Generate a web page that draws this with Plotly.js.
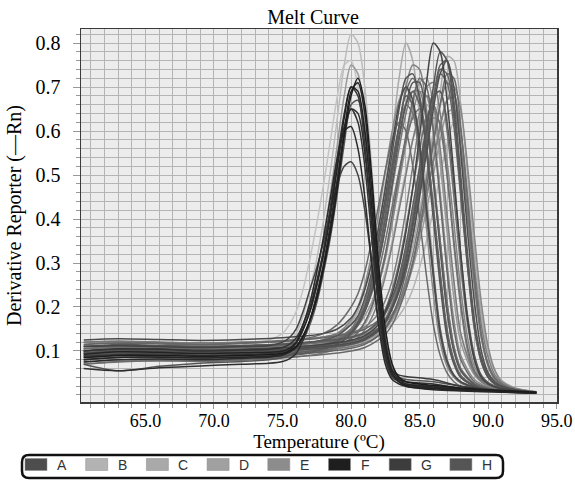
<!DOCTYPE html>
<html>
<head>
<meta charset="utf-8">
<script src="https://cdn.plot.ly/plotly-3.0.1.min.js"></script>
<style>html,body{margin:0;padding:0;background:#fff;}#chart{width:575px;height:489px;}</style>
</head>
<body>
<div id="chart"></div>
<script>
// ---------- DATA ----------
const chartTitle = 'Melt Curve';
const xTitle = 'Temperature (ºC)';
const yTitle = 'Derivative Reporter (—Rn)';
const xTickVals = [65, 70, 75, 80, 85, 90, 95];
const yTickVals = [0.1, 0.2, 0.3, 0.4, 0.5, 0.6, 0.7, 0.8];
const wellRows = ['A', 'B', 'C', 'D', 'E', 'F', 'G', 'H'];

// temperature grids (°C) for the three peak families
const tempsLow  = [60.5, 63, 66, 69, 72, 74, 75, 75.5, 76, 76.5, 77, 77.5, 78, 78.5, 79, 79.5, 80, 80.5, 81, 81.5, 82, 82.5, 83, 83.5, 84, 86, 88, 91, 93.5];
const tempsMid  = [60.5, 63, 66, 69, 72, 75, 77, 78, 79, 80, 80.5, 81, 81.5, 82, 82.5, 83, 83.5, 84, 84.5, 85, 85.5, 86, 86.5, 87, 87.5, 88, 89, 90, 91.5, 93.5];
const tempsHigh = [60.5, 63, 66, 69, 72, 75, 78, 80, 81, 82, 82.5, 83, 83.5, 84, 84.5, 85, 85.5, 86, 86.5, 87, 87.5, 88, 88.5, 89, 89.5, 90, 90.5, 91, 92, 93.5];

// peak ~80 °C
const low1  = [0.092,0.098,0.097,0.094,0.096,0.097,0.10,0.106,0.12,0.15,0.19,0.25,0.32,0.41,0.52,0.63,0.70,0.69,0.60,0.43,0.24,0.11,0.05,0.03,0.02,0.014,0.011,0.008,0.005];
const low2  = [0.085,0.09,0.09,0.088,0.09,0.092,0.095,0.10,0.11,0.135,0.17,0.22,0.29,0.37,0.47,0.59,0.68,0.72,0.66,0.50,0.30,0.15,0.07,0.04,0.03,0.022,0.016,0.01,0.006];
const low3  = [0.10,0.105,0.104,0.10,0.102,0.104,0.108,0.115,0.13,0.16,0.2,0.26,0.33,0.42,0.52,0.61,0.65,0.62,0.52,0.36,0.2,0.09,0.045,0.035,0.03,0.025,0.015,0.008,0.005];
const low4  = [0.075,0.08,0.082,0.08,0.083,0.086,0.09,0.1,0.12,0.16,0.21,0.28,0.36,0.45,0.54,0.6,0.61,0.56,0.45,0.3,0.16,0.07,0.035,0.025,0.02,0.012,0.009,0.006,0.004];
const low5  = [0.11,0.112,0.11,0.108,0.11,0.112,0.12,0.13,0.15,0.19,0.24,0.29,0.35,0.42,0.48,0.52,0.53,0.5,0.42,0.3,0.17,0.08,0.04,0.03,0.025,0.02,0.014,0.009,0.006];
const low6  = [0.1,0.105,0.105,0.1,0.1,0.105,0.11,0.12,0.14,0.18,0.24,0.31,0.4,0.51,0.63,0.75,0.82,0.8,0.7,0.52,0.31,0.15,0.07,0.04,0.025,0.015,0.01,0.007,0.005];
const low7  = [0.095,0.1,0.1,0.098,0.1,0.102,0.105,0.11,0.125,0.16,0.21,0.28,0.36,0.46,0.57,0.68,0.75,0.73,0.63,0.45,0.26,0.12,0.06,0.035,0.025,0.018,0.012,0.008,0.005];
const low8  = [0.105,0.11,0.112,0.11,0.115,0.125,0.14,0.16,0.19,0.24,0.31,0.39,0.48,0.58,0.68,0.75,0.76,0.7,0.58,0.42,0.25,0.12,0.06,0.035,0.025,0.018,0.012,0.008,0.005];
const low9  = [0.07,0.055,0.065,0.072,0.076,0.08,0.085,0.09,0.1,0.125,0.16,0.21,0.28,0.36,0.46,0.57,0.66,0.67,0.6,0.46,0.28,0.13,0.06,0.04,0.035,0.03,0.02,0.01,0.005];
const low10 = [0.088,0.092,0.093,0.09,0.092,0.094,0.098,0.104,0.118,0.148,0.19,0.25,0.33,0.43,0.54,0.64,0.7,0.68,0.57,0.4,0.22,0.1,0.055,0.045,0.042,0.035,0.02,0.01,0.006];
const low11 = [0.06,0.055,0.062,0.066,0.07,0.072,0.076,0.082,0.095,0.125,0.17,0.23,0.3,0.39,0.49,0.59,0.65,0.64,0.55,0.39,0.21,0.09,0.045,0.03,0.022,0.016,0.012,0.008,0.005];
const low12 = [0.08,0.085,0.086,0.084,0.086,0.088,0.092,0.097,0.108,0.132,0.17,0.22,0.29,0.38,0.49,0.6,0.69,0.71,0.64,0.47,0.27,0.12,0.055,0.035,0.025,0.018,0.013,0.008,0.005];

// peak ~84-85 °C
const mid1  = [0.1,0.105,0.105,0.1,0.102,0.105,0.11,0.12,0.135,0.165,0.19,0.24,0.3,0.38,0.48,0.59,0.72,0.8,0.76,0.63,0.46,0.29,0.15,0.08,0.045,0.03,0.015,0.01,0.007,0.005];
const mid2  = [0.11,0.115,0.112,0.11,0.112,0.115,0.12,0.125,0.135,0.16,0.18,0.22,0.28,0.36,0.45,0.55,0.65,0.72,0.73,0.67,0.55,0.4,0.25,0.13,0.07,0.04,0.02,0.012,0.008,0.005];
const mid3  = [0.095,0.1,0.1,0.098,0.1,0.104,0.11,0.115,0.125,0.145,0.165,0.2,0.25,0.32,0.41,0.51,0.61,0.69,0.72,0.68,0.57,0.43,0.28,0.15,0.08,0.045,0.022,0.013,0.008,0.005];
const mid4  = [0.12,0.122,0.12,0.118,0.12,0.122,0.128,0.132,0.14,0.16,0.175,0.2,0.24,0.3,0.38,0.47,0.56,0.64,0.69,0.69,0.62,0.5,0.35,0.21,0.11,0.06,0.025,0.014,0.009,0.005];
const mid5  = [0.09,0.095,0.095,0.093,0.095,0.1,0.105,0.11,0.12,0.135,0.145,0.165,0.2,0.25,0.31,0.39,0.48,0.57,0.64,0.69,0.68,0.6,0.46,0.3,0.17,0.09,0.035,0.018,0.01,0.006];
const mid6  = [0.08,0.085,0.086,0.084,0.087,0.09,0.097,0.104,0.115,0.14,0.165,0.2,0.26,0.34,0.43,0.52,0.61,0.68,0.66,0.57,0.43,0.28,0.15,0.08,0.045,0.03,0.018,0.011,0.007,0.004];
const mid7  = [0.105,0.11,0.11,0.108,0.11,0.113,0.118,0.123,0.13,0.15,0.165,0.19,0.23,0.28,0.35,0.43,0.51,0.58,0.63,0.65,0.6,0.49,0.35,0.21,0.11,0.06,0.025,0.014,0.009,0.005];
const mid8  = [0.1,0.104,0.104,0.1,0.103,0.106,0.112,0.118,0.128,0.145,0.158,0.18,0.21,0.26,0.32,0.4,0.49,0.58,0.66,0.71,0.72,0.66,0.53,0.37,0.22,0.12,0.045,0.02,0.011,0.006];
const mid9  = [0.115,0.118,0.116,0.114,0.117,0.122,0.13,0.14,0.16,0.2,0.23,0.28,0.35,0.43,0.51,0.58,0.62,0.6,0.52,0.4,0.27,0.16,0.09,0.05,0.03,0.02,0.013,0.009,0.006,0.004];
const mid10 = [0.1,0.103,0.102,0.1,0.102,0.105,0.11,0.116,0.126,0.148,0.168,0.2,0.25,0.32,0.41,0.51,0.61,0.7,0.75,0.74,0.65,0.5,0.34,0.19,0.1,0.055,0.024,0.013,0.008,0.005];
const mid11 = [0.095,0.1,0.1,0.098,0.1,0.103,0.108,0.113,0.12,0.135,0.145,0.16,0.19,0.23,0.28,0.35,0.43,0.51,0.58,0.63,0.66,0.63,0.53,0.39,0.25,0.14,0.05,0.022,0.012,0.006];
const mid12 = [0.125,0.128,0.126,0.124,0.126,0.13,0.135,0.14,0.15,0.175,0.2,0.24,0.3,0.38,0.47,0.57,0.66,0.7,0.67,0.57,0.42,0.27,0.14,0.075,0.045,0.03,0.018,0.011,0.007,0.004];
const mid13 = [0.085,0.09,0.09,0.088,0.09,0.094,0.1,0.106,0.116,0.138,0.158,0.19,0.24,0.31,0.4,0.5,0.59,0.66,0.69,0.66,0.56,0.42,0.27,0.14,0.075,0.04,0.02,0.012,0.008,0.005];
const mid14 = [0.075,0.08,0.082,0.08,0.083,0.088,0.095,0.1,0.11,0.128,0.142,0.165,0.2,0.25,0.32,0.41,0.5,0.59,0.67,0.72,0.7,0.6,0.44,0.28,0.15,0.08,0.03,0.016,0.009,0.005];
const mid15 = [0.09,0.094,0.094,0.092,0.094,0.098,0.105,0.112,0.124,0.15,0.175,0.21,0.27,0.35,0.44,0.53,0.61,0.66,0.64,0.55,0.41,0.27,0.14,0.075,0.042,0.028,0.016,0.01,0.007,0.004];
const mid16 = [0.07,0.075,0.078,0.076,0.079,0.084,0.09,0.096,0.105,0.12,0.13,0.148,0.175,0.215,0.27,0.34,0.42,0.5,0.58,0.64,0.68,0.66,0.56,0.41,0.26,0.14,0.05,0.022,0.012,0.006];
const mid17 = [0.095,0.098,0.098,0.096,0.098,0.102,0.108,0.113,0.122,0.142,0.16,0.19,0.235,0.3,0.38,0.48,0.58,0.66,0.71,0.71,0.63,0.49,0.33,0.19,0.1,0.055,0.024,0.013,0.008,0.005];
const mid18 = [0.105,0.108,0.108,0.106,0.108,0.112,0.118,0.126,0.14,0.17,0.2,0.25,0.32,0.41,0.51,0.6,0.67,0.7,0.65,0.53,0.38,0.23,0.12,0.065,0.04,0.027,0.016,0.01,0.007,0.004];

// peak ~86-87.5 °C
const high1  = [0.1,0.104,0.105,0.102,0.104,0.108,0.115,0.125,0.135,0.16,0.19,0.23,0.29,0.37,0.47,0.59,0.71,0.8,0.78,0.67,0.5,0.32,0.17,0.08,0.04,0.025,0.018,0.014,0.01,0.006];
const high2  = [0.09,0.095,0.096,0.094,0.096,0.1,0.107,0.115,0.125,0.145,0.165,0.2,0.245,0.31,0.39,0.49,0.6,0.7,0.78,0.76,0.65,0.48,0.3,0.16,0.08,0.04,0.025,0.017,0.01,0.006];
const high3  = [0.105,0.108,0.108,0.106,0.108,0.112,0.12,0.13,0.14,0.16,0.175,0.2,0.235,0.28,0.34,0.42,0.5,0.6,0.69,0.77,0.76,0.66,0.5,0.33,0.19,0.1,0.055,0.032,0.015,0.007];
const high4  = [0.115,0.118,0.118,0.115,0.118,0.122,0.13,0.14,0.15,0.17,0.19,0.22,0.26,0.32,0.4,0.49,0.58,0.67,0.73,0.71,0.61,0.45,0.29,0.15,0.075,0.04,0.024,0.016,0.01,0.006];
const high5  = [0.085,0.09,0.092,0.09,0.092,0.096,0.102,0.11,0.118,0.135,0.15,0.175,0.21,0.26,0.32,0.4,0.49,0.58,0.66,0.71,0.69,0.57,0.41,0.25,0.13,0.065,0.035,0.022,0.012,0.006];
const high6  = [0.1,0.104,0.104,0.102,0.104,0.108,0.114,0.122,0.13,0.145,0.158,0.178,0.205,0.245,0.3,0.37,0.45,0.53,0.61,0.67,0.7,0.65,0.52,0.36,0.21,0.11,0.055,0.03,0.015,0.007];
const high7  = [0.11,0.113,0.112,0.11,0.112,0.116,0.123,0.132,0.142,0.165,0.185,0.22,0.27,0.34,0.43,0.52,0.61,0.68,0.69,0.62,0.48,0.32,0.18,0.09,0.045,0.028,0.02,0.014,0.009,0.005];
const high8  = [0.095,0.098,0.098,0.096,0.098,0.102,0.108,0.115,0.122,0.14,0.152,0.17,0.2,0.24,0.29,0.35,0.42,0.5,0.58,0.64,0.65,0.56,0.4,0.25,0.13,0.07,0.04,0.025,0.014,0.007];
const high9  = [0.105,0.108,0.108,0.105,0.108,0.112,0.12,0.13,0.142,0.17,0.195,0.24,0.3,0.38,0.47,0.56,0.63,0.66,0.61,0.5,0.35,0.21,0.11,0.055,0.035,0.025,0.018,0.013,0.009,0.005];
const high10 = [0.095,0.1,0.1,0.098,0.1,0.104,0.11,0.118,0.128,0.148,0.165,0.195,0.235,0.29,0.36,0.45,0.55,0.65,0.73,0.76,0.7,0.55,0.37,0.21,0.1,0.05,0.03,0.02,0.012,0.006];
const high11 = [0.1,0.103,0.103,0.1,0.103,0.106,0.112,0.118,0.125,0.138,0.148,0.162,0.18,0.205,0.24,0.29,0.35,0.42,0.5,0.57,0.62,0.59,0.46,0.3,0.18,0.1,0.055,0.033,0.016,0.008];
const high12 = [0.12,0.122,0.12,0.118,0.12,0.124,0.132,0.142,0.155,0.185,0.215,0.26,0.33,0.42,0.52,0.62,0.7,0.71,0.64,0.5,0.34,0.2,0.1,0.05,0.03,0.022,0.016,0.012,0.008,0.005];
const high13 = [0.08,0.085,0.087,0.085,0.087,0.092,0.098,0.106,0.115,0.135,0.152,0.18,0.22,0.28,0.36,0.46,0.57,0.67,0.74,0.73,0.63,0.46,0.29,0.15,0.075,0.04,0.024,0.016,0.01,0.006];
const high14 = [0.07,0.076,0.078,0.077,0.08,0.085,0.092,0.1,0.108,0.125,0.138,0.16,0.195,0.24,0.3,0.38,0.47,0.57,0.66,0.73,0.72,0.61,0.44,0.27,0.14,0.07,0.038,0.024,0.012,0.006];
const high15 = [0.095,0.098,0.098,0.096,0.098,0.102,0.11,0.118,0.128,0.152,0.172,0.205,0.255,0.32,0.41,0.51,0.6,0.68,0.69,0.6,0.45,0.29,0.16,0.08,0.042,0.027,0.019,0.014,0.009,0.005];
const high16 = [0.11,0.112,0.112,0.11,0.112,0.116,0.122,0.13,0.138,0.152,0.164,0.184,0.21,0.25,0.3,0.37,0.45,0.53,0.61,0.67,0.68,0.6,0.45,0.29,0.16,0.085,0.045,0.027,0.014,0.007];
const high17 = [0.1,0.103,0.103,0.1,0.103,0.107,0.114,0.122,0.132,0.152,0.17,0.2,0.24,0.3,0.38,0.47,0.57,0.67,0.75,0.76,0.67,0.5,0.32,0.17,0.085,0.045,0.027,0.018,0.011,0.006];
const high18 = [0.085,0.09,0.092,0.09,0.092,0.097,0.105,0.114,0.125,0.15,0.172,0.21,0.26,0.33,0.41,0.49,0.57,0.63,0.62,0.53,0.39,0.24,0.13,0.065,0.038,0.026,0.018,0.013,0.009,0.005];

// ---------- STYLE ----------
const curves = [
  [tempsLow, low1, '#232323'], [tempsLow, low2, '#1c1c1c'], [tempsLow, low3, '#333333'],
  [tempsLow, low4, '#2a2a2a'], [tempsLow, low5, '#444444'], [tempsLow, low6, '#bdbdbd'],
  [tempsLow, low7, '#9a9a9a'], [tempsLow, low8, '#c4c4c4'], [tempsLow, low9, '#555555'],
  [tempsLow, low10, '#3a3a3a'], [tempsLow, low11, '#2e2e2e'], [tempsLow, low12, '#262626'],
  [tempsMid, mid1, '#aaaaaa'], [tempsMid, mid2, '#555555'], [tempsMid, mid3, '#666666'],
  [tempsMid, mid4, '#777777'], [tempsMid, mid5, '#888888'], [tempsMid, mid6, '#5a5a5a'],
  [tempsMid, mid7, '#707070'], [tempsMid, mid8, '#999999'], [tempsMid, mid9, '#6a6a6a'],
  [tempsMid, mid10, '#808080'], [tempsMid, mid11, '#b0b0b0'], [tempsMid, mid12, '#4a4a4a'],
  [tempsMid, mid13, '#606060'], [tempsMid, mid14, '#686868'], [tempsMid, mid15, '#727272'],
  [tempsMid, mid16, '#7c7c7c'], [tempsMid, mid17, '#585858'], [tempsMid, mid18, '#8a8a8a'],
  [tempsHigh, high1, '#444444'], [tempsHigh, high2, '#555555'], [tempsHigh, high3, '#aaaaaa'],
  [tempsHigh, high4, '#666666'], [tempsHigh, high5, '#777777'], [tempsHigh, high6, '#888888'],
  [tempsHigh, high7, '#5a5a5a'], [tempsHigh, high8, '#9a9a9a'], [tempsHigh, high9, '#6e6e6e'],
  [tempsHigh, high10, '#4e4e4e'], [tempsHigh, high11, '#b5b5b5'], [tempsHigh, high12, '#7a7a7a'],
  [tempsHigh, high13, '#626262'], [tempsHigh, high14, '#6a6a6a'], [tempsHigh, high15, '#737373'],
  [tempsHigh, high16, '#7e7e7e'], [tempsHigh, high17, '#5e5e5e'], [tempsHigh, high18, '#868686']
];
const lum = c => parseInt(c.slice(1, 3), 16);
curves.sort((a, b) => lum(b[2]) - lum(a[2])); // light first, dark on top

const traces = curves.map(c => ({
  type: 'scatter', mode: 'lines', x: c[0], y: c[1],
  line: {color: c[2], width: 1.5, shape: 'spline', smoothing: 0.8},
  showlegend: false, hoverinfo: 'skip'
}));

// layout geometry (pixels)
const W = 575, H = 489;
const mL = 81, mR = 18, mT = 29, mB = 87;
const pw = W - mL - mR, ph = H - mT - mB;
const px2x = p => (p - mL) / pw;
const py2y = p => (H - mB - p) / ph;

const shapes = [];
const annotations = [];
// rounded legend box
const bx0 = px2x(22), bx1 = px2x(503), by0 = py2y(478), by1 = py2y(455);
const rx = 7 / pw, ry = 7 / ph;
shapes.push({
  type: 'path', xref: 'paper', yref: 'paper',
  path: `M ${bx0 + rx} ${by1} L ${bx1 - rx} ${by1} Q ${bx1} ${by1} ${bx1} ${by1 - ry} L ${bx1} ${by0 + ry} Q ${bx1} ${by0} ${bx1 - rx} ${by0} L ${bx0 + rx} ${by0} Q ${bx0} ${by0} ${bx0} ${by0 + ry} L ${bx0} ${by1 - ry} Q ${bx0} ${by1} ${bx0 + rx} ${by1} Z`,
  line: {color: '#111111', width: 2.5}, fillcolor: '#ffffff', layer: 'above'
});
const swatchColors = ['#4d4d4d', '#b3b3b3', '#a9a9a9', '#a0a0a0', '#8c8c8c', '#1e1e1e', '#3c3c3c', '#555555'];
wellRows.forEach((r, i) => {
  const sx = 25 + i * 60.7;
  shapes.push({
    type: 'rect', xref: 'paper', yref: 'paper',
    x0: px2x(sx), x1: px2x(sx + 22), y0: py2y(470.5), y1: py2y(458.5),
    line: {color: '#888888', width: 0.5}, fillcolor: swatchColors[i], layer: 'above'
  });
  annotations.push({
    xref: 'paper', yref: 'paper', x: px2x(sx + 37), y: py2y(464.5),
    text: r, showarrow: false, xanchor: 'center', yanchor: 'middle',
    font: {family: 'Liberation Sans, Arial, sans-serif', size: 14, color: '#333333'}
  });
});

const serif = 'Liberation Serif, Times New Roman, serif';
const layout = {
  width: W, height: H,
  margin: {l: mL, r: mR, t: mT, b: mB, pad: 0},
  paper_bgcolor: '#ffffff', plot_bgcolor: '#ececec',
  title: {text: chartTitle, font: {family: serif, size: 20, color: '#000'},
          xref: 'container', yref: 'container', x: 313 / W, y: 1 - 17 / H, xanchor: 'center', yanchor: 'middle'},
  xaxis: {
    range: [60.3, 95.02], tickvals: xTickVals, tickformat: '.1f',
    showgrid: true, gridcolor: '#b4b4b4', gridwidth: 1,
    minor: {dtick: 1, tick0: 60, showgrid: true, gridcolor: '#b4b4b4', gridwidth: 1, ticks: 'outside', ticklen: 4, tickcolor: '#999'},
    ticks: 'outside', ticklen: 5, tickcolor: '#999',
    showline: true, linecolor: '#3a3a3a', linewidth: 1.5, mirror: true,
    zeroline: false, ticklabelstandoff: -3,
    tickfont: {family: serif, size: 18, color: '#000'},
    title: {text: xTitle, font: {family: serif, size: 19, color: '#000'}, standoff: 1}
  },
  yaxis: {
    range: [-0.016, 0.832], tickvals: yTickVals, tickformat: '.1f',
    showgrid: true, gridcolor: '#b4b4b4', gridwidth: 1,
    minor: {dtick: 0.02, tick0: 0, showgrid: true, gridcolor: '#b4b4b4', gridwidth: 1, ticks: 'outside', ticklen: 4, tickcolor: '#999'},
    ticks: 'outside', ticklen: 7, tickcolor: '#999',
    showline: true, linecolor: '#3a3a3a', linewidth: 1.5, mirror: true,
    zeroline: false, ticklabelstandoff: 8,
    tickfont: {family: serif, size: 20, color: '#000'},
    title: {text: yTitle, font: {family: serif, size: 20, color: '#000'}, standoff: 8}
  },
  shapes: shapes, annotations: annotations, showlegend: false
};

Plotly.newPlot('chart', traces, layout, {displayModeBar: false, staticPlot: true});
</script>
</body>
</html>
